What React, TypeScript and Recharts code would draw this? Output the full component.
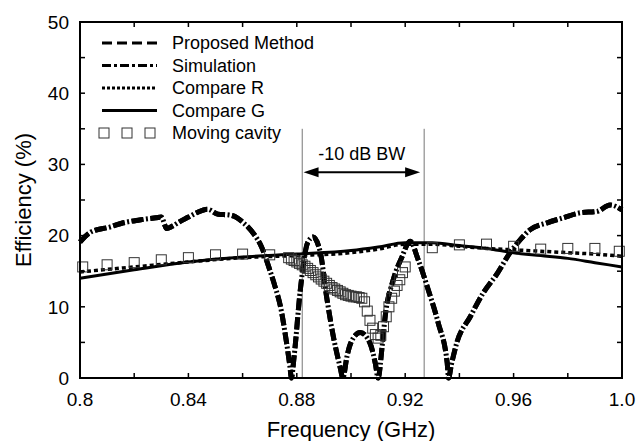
import React from 'react';
import { ComposedChart, Line, XAxis, YAxis, ReferenceLine } from 'recharts';

// ---- data ----
const proposedFreq = [0.800, 0.804, 0.811, 0.816, 0.822, 0.828, 0.830, 0.832, 0.834, 0.837, 0.840, 0.843, 0.847, 0.851, 0.855, 0.858, 0.860, 0.862, 0.864, 0.867, 0.870, 0.872, 0.874, 0.876, 0.8775, 0.878, 0.879, 0.8813, 0.884, 0.886, 0.8887, 0.891, 0.8935, 0.896, 0.897, 0.8985, 0.900, 0.9034, 0.907, 0.909, 0.910, 0.9115, 0.9126, 0.9156, 0.9188, 0.9218, 0.9248, 0.9285, 0.9322, 0.9355, 0.936, 0.937, 0.939, 0.944, 0.9487, 0.954, 0.9587, 0.9624, 0.966, 0.9724, 0.9783, 0.9845, 0.9908, 0.9956, 1.0];
const proposedEff = [19.1, 20.5, 21.2, 21.8, 22.2, 22.5, 22.6, 21.0, 21.3, 22.0, 22.6, 23.2, 23.7, 23.0, 22.9, 22.5, 21.9, 21.2, 20.3, 18.4, 15.2, 12.8, 10.0, 5.5, 1.5, 0, 3.0, 12.4, 19.0, 19.8, 17.6, 11.4, 5.8, 1.5, 0, 3.0, 5.0, 6.4, 4.9, 2.0, 0, 4.5, 8.6, 13.8, 17.0, 19.2, 16.6, 12.4, 7.7, 2.1, 0, 1.8, 4.9, 8.6, 11.9, 14.7, 17.6, 19.4, 20.8, 21.8, 22.5, 23.2, 23.4, 24.3, 23.6];
const simulationFreq = proposedFreq;
const simulationEff = proposedEff;

const compareFreq = [0.80, 0.82, 0.84, 0.86, 0.88, 0.90, 0.91, 0.92, 0.93, 0.94, 0.95, 0.96, 0.97, 0.98, 0.99, 1.00];
const compareREff = [14.9, 15.6, 16.3, 16.9, 17.2, 17.6, 18.1, 18.8, 18.8, 18.5, 18.2, 18.0, 17.8, 17.6, 17.4, 17.1];
const compareGEff = [14.0, 15.2, 16.3, 17.0, 17.4, 17.9, 18.4, 19.0, 19.0, 18.6, 18.2, 17.6, 17.2, 16.8, 16.2, 15.6];

const cavityFreq = [0.801, 0.81, 0.82, 0.83, 0.84, 0.85, 0.86, 0.87,
  0.877, 0.878, 0.879, 0.880, 0.881, 0.882, 0.883, 0.884, 0.885, 0.886, 0.887, 0.888, 0.889, 0.890,
  0.891, 0.892, 0.893, 0.894, 0.895, 0.896, 0.897, 0.898, 0.899, 0.900, 0.901, 0.902, 0.903, 0.904,
  0.905, 0.906, 0.907, 0.908, 0.909, 0.910, 0.911, 0.912, 0.913, 0.914, 0.915, 0.916, 0.917, 0.918,
  0.919, 0.920, 0.93, 0.94, 0.95, 0.96, 0.97, 0.98, 0.99, 0.999];
const cavityEff = [15.6, 15.9, 16.2, 16.6, 16.9, 17.3, 17.4, 17.3,
  16.9, 16.7, 16.5, 16.3, 16.1, 15.9, 15.7, 15.4, 15.1, 14.8, 14.5, 14.2, 13.9, 13.6,
  13.3, 13.0, 12.7, 12.5, 12.3, 12.1, 11.9, 11.7, 11.6, 11.5, 11.4, 11.4, 11.3, 11.2,
  10.7, 9.4, 8.1, 7.0, 6.1, 5.6, 6.0, 7.2, 8.6, 10.0, 11.2, 12.2, 13.0, 13.8,
  14.8, 15.6, 18.3, 18.7, 18.8, 18.5, 18.1, 18.2, 18.2, 17.8];

const xTicks = [0.8, 0.82, 0.84, 0.86, 0.88, 0.9, 0.92, 0.94, 0.96, 0.98, 1.0];
const xLabeled = [0.8, 0.84, 0.88, 0.92, 0.96, 1.0];
const yTicks = [0, 5, 10, 15, 20, 25, 30, 35, 40, 45, 50];
const yLabeled = [0, 10, 20, 30, 40, 50];

const bwStart = 0.882;
const bwEnd = 0.927;
const bwTop = 35;
const arrowLevel = 28.9;
const bwLabel = '-10 dB BW';

const seriesNames = ['Proposed Method', 'Simulation', 'Compare R', 'Compare G', 'Moving cavity'];

const toPoints = (xs: number[], ys: number[]) => xs.map((x, i) => ({ x, y: ys[i] }));
const proposedData = toPoints(proposedFreq, proposedEff);
const simulationData = toPoints(simulationFreq, simulationEff);
const compareRData = toPoints(compareFreq, compareREff);
const compareGData = toPoints(compareFreq, compareGEff);
const cavityData = toPoints(cavityFreq, cavityEff);

const X_MIN = 0.8, X_MAX = 1.0, Y_MIN = 0, Y_MAX = 50;

// layout of the chart (margins / axis sizes)
const W = 638, H = 441;
const M_TOP = 22, M_RIGHT = 16, Y_AXIS_W = 80, X_AXIS_H = 63;
const P_LEFT = Y_AXIS_W, P_RIGHT = W - M_RIGHT, P_TOP = M_TOP, P_BOTTOM = H - X_AXIS_H;
const TICK = 5;

const FONT = '"Liberation Sans", Arial, Helvetica, sans-serif';
const near = (a: number, list: number[]) => list.some((v) => Math.abs(v - a) < 1e-6);
const fmtX = (v: number) => (near(v, xLabeled) ? (Math.abs(v - 1) < 1e-6 ? '1.0' : String(v)) : '');
const fmtY = (v: number) => (near(v, yLabeled) ? String(v) : '');

const BottomTick = (p: any) => (
  <text x={p.x} y={p.y} dy="0.71em" textAnchor="middle" fontSize={19} fontFamily={FONT} fill="#000">{fmtX(p.payload.value)}</text>
);
const LeftTick = (p: any) => (
  <text x={p.x} y={p.y} dy="0.355em" textAnchor="end" fontSize={19} fontFamily={FONT} fill="#000">{fmtY(p.payload.value)}</text>
);

const SquareDot = (p: any) => {
  if (p.cx == null || p.cy == null) return <g key={p.key} />;
  return <rect key={p.key} x={p.cx - 5} y={p.cy - 5} width={10} height={10} fill="none" stroke="#333" strokeWidth={1} />;
};

const ArrowShape = (p: any) => {
  const { x1, y1, x2, y2 } = p;
  return (
    <g>
      <line x1={x1 + 12} y1={y1} x2={x2 - 12} y2={y2} stroke="#000" strokeWidth={2} />
      <polygon points={`${x1},${y1} ${x1 + 15},${y1 - 5} ${x1 + 15},${y1 + 5}`} fill="#000" />
      <polygon points={`${x2},${y2} ${x2 - 15},${y2 - 5} ${x2 - 15},${y2 + 5}`} fill="#000" />
    </g>
  );
};

const legendStyles = [
  { dash: '10 5', w: 3 },
  { dash: '9 3 3 3', w: 3 },
  { dash: '3 2', w: 3 },
  { dash: undefined, w: 3 },
  { dash: 'square', w: 1 },
];

const LegendBox = () => (
  <svg width={260} height={116} style={{ position: 'absolute', left: 95, top: 30, display: 'block' }}>
    {seriesNames.map((name, i) => {
      const y = 13 + i * 22.5;
      const st = legendStyles[i];
      return (
        <g key={name}>
          {st.dash === 'square' ? (
            [9, 32, 55].map((cx) => (
              <rect key={cx} x={cx - 5} y={y - 5} width={10} height={10} fill="none" stroke="#333" strokeWidth={1} />
            ))
          ) : (
            <line x1={7} y1={y} x2={62} y2={y} stroke="#000" strokeWidth={st.w} strokeDasharray={st.dash} />
          )}
          <text x={77} y={y} dy="0.36em" fontSize={18} fontFamily={FONT} fill="#000">{name}</text>
        </g>
      );
    })}
  </svg>
);

// plot frame with inward ticks on all four sides (axis decoration)
const Frame = () => {
  const xp = (v: number) => P_LEFT + ((v - X_MIN) / (X_MAX - X_MIN)) * (P_RIGHT - P_LEFT);
  const yp = (v: number) => P_BOTTOM - ((v - Y_MIN) / (Y_MAX - Y_MIN)) * (P_BOTTOM - P_TOP);
  return (
    <svg width={W} height={H} style={{ position: 'absolute', left: 0, top: 0, pointerEvents: 'none' }}>
      {xTicks.map((t) => (
        <g key={`x${t}`}>
          <line x1={xp(t)} y1={P_BOTTOM} x2={xp(t)} y2={P_BOTTOM - TICK} stroke="#000" strokeWidth={1.5} />
          <line x1={xp(t)} y1={P_TOP} x2={xp(t)} y2={P_TOP + TICK} stroke="#000" strokeWidth={1.5} />
        </g>
      ))}
      {yTicks.map((t) => (
        <g key={`y${t}`}>
          <line x1={P_LEFT} y1={yp(t)} x2={P_LEFT + TICK} y2={yp(t)} stroke="#000" strokeWidth={1.5} />
          <line x1={P_RIGHT} y1={yp(t)} x2={P_RIGHT - TICK} y2={yp(t)} stroke="#000" strokeWidth={1.5} />
        </g>
      ))}
      <rect x={P_LEFT} y={P_TOP} width={P_RIGHT - P_LEFT} height={P_BOTTOM - P_TOP} fill="none" stroke="#000" strokeWidth={2} />
    </svg>
  );
};

const ids = { xAxisId: 'b', yAxisId: 'l' };

export default function App() {
  return (
    <div style={{ position: 'absolute', left: 0, top: 0, width: W, height: H }}>
      <ComposedChart width={W} height={H} margin={{ top: M_TOP, right: M_RIGHT, bottom: 0, left: 0 }}>
        <XAxis xAxisId="b" type="number" dataKey="x" domain={[X_MIN, X_MAX]} ticks={xTicks}
          interval={0} height={X_AXIS_H} tickSize={0} tickMargin={15} tickLine={false}
          axisLine={{ stroke: '#000', strokeWidth: 2 }} tick={BottomTick}
          label={{ value: 'Frequency (GHz)', position: 'insideBottom', offset: 4, style: { fontSize: 22, fontFamily: FONT, fill: '#000' } }} />
        <YAxis yAxisId="l" type="number" domain={[Y_MIN, Y_MAX]} ticks={yTicks} interval={0}
          width={Y_AXIS_W} tickSize={0} tickMargin={11} tickLine={false}
          axisLine={{ stroke: '#000', strokeWidth: 2 }} tick={LeftTick}
          label={{ value: 'Efficiency (%)', angle: -90, position: 'insideLeft', offset: 23, textAnchor: 'middle',
            style: { fontSize: 22, fontFamily: FONT, fill: '#000', textAnchor: 'middle' } }} />

        <ReferenceLine {...ids} segment={[{ x: bwStart, y: Y_MIN }, { x: bwStart, y: bwTop }]} stroke="#777" strokeWidth={1} />
        <ReferenceLine {...ids} segment={[{ x: bwEnd, y: Y_MIN }, { x: bwEnd, y: bwTop }]} stroke="#777" strokeWidth={1} />
        <ReferenceLine {...ids} segment={[{ x: bwStart + 0.0005, y: arrowLevel }, { x: bwEnd - 0.0015, y: arrowLevel }]}
          shape={ArrowShape}
          label={{ value: bwLabel, position: 'top', offset: 12, style: { fontSize: 18, fontFamily: FONT, fill: '#000' } }} />

        <Line {...ids} data={compareGData} dataKey="y" name="Compare G" type="monotone" stroke="#000" strokeWidth={3} dot={false} isAnimationActive={false} />
        <Line {...ids} data={compareRData} dataKey="y" name="Compare R" type="monotone" stroke="#000" strokeWidth={3.5} strokeDasharray="4 3" dot={false} isAnimationActive={false} />
        <Line {...ids} data={cavityData} dataKey="y" name="Moving cavity" stroke="none" dot={SquareDot} activeDot={false} isAnimationActive={false} />
        <Line {...ids} data={proposedData} dataKey="y" name="Proposed Method" type="monotone" stroke="#000" strokeWidth={5} strokeDasharray="12 7" dot={false} isAnimationActive={false} />
        <Line {...ids} data={simulationData} dataKey="y" name="Simulation" type="monotone" stroke="#000" strokeWidth={5} strokeDasharray="12 2.5 2 2.5" dot={false} isAnimationActive={false} />
      </ComposedChart>
      <Frame />
      <LegendBox />
    </div>
  );
}
